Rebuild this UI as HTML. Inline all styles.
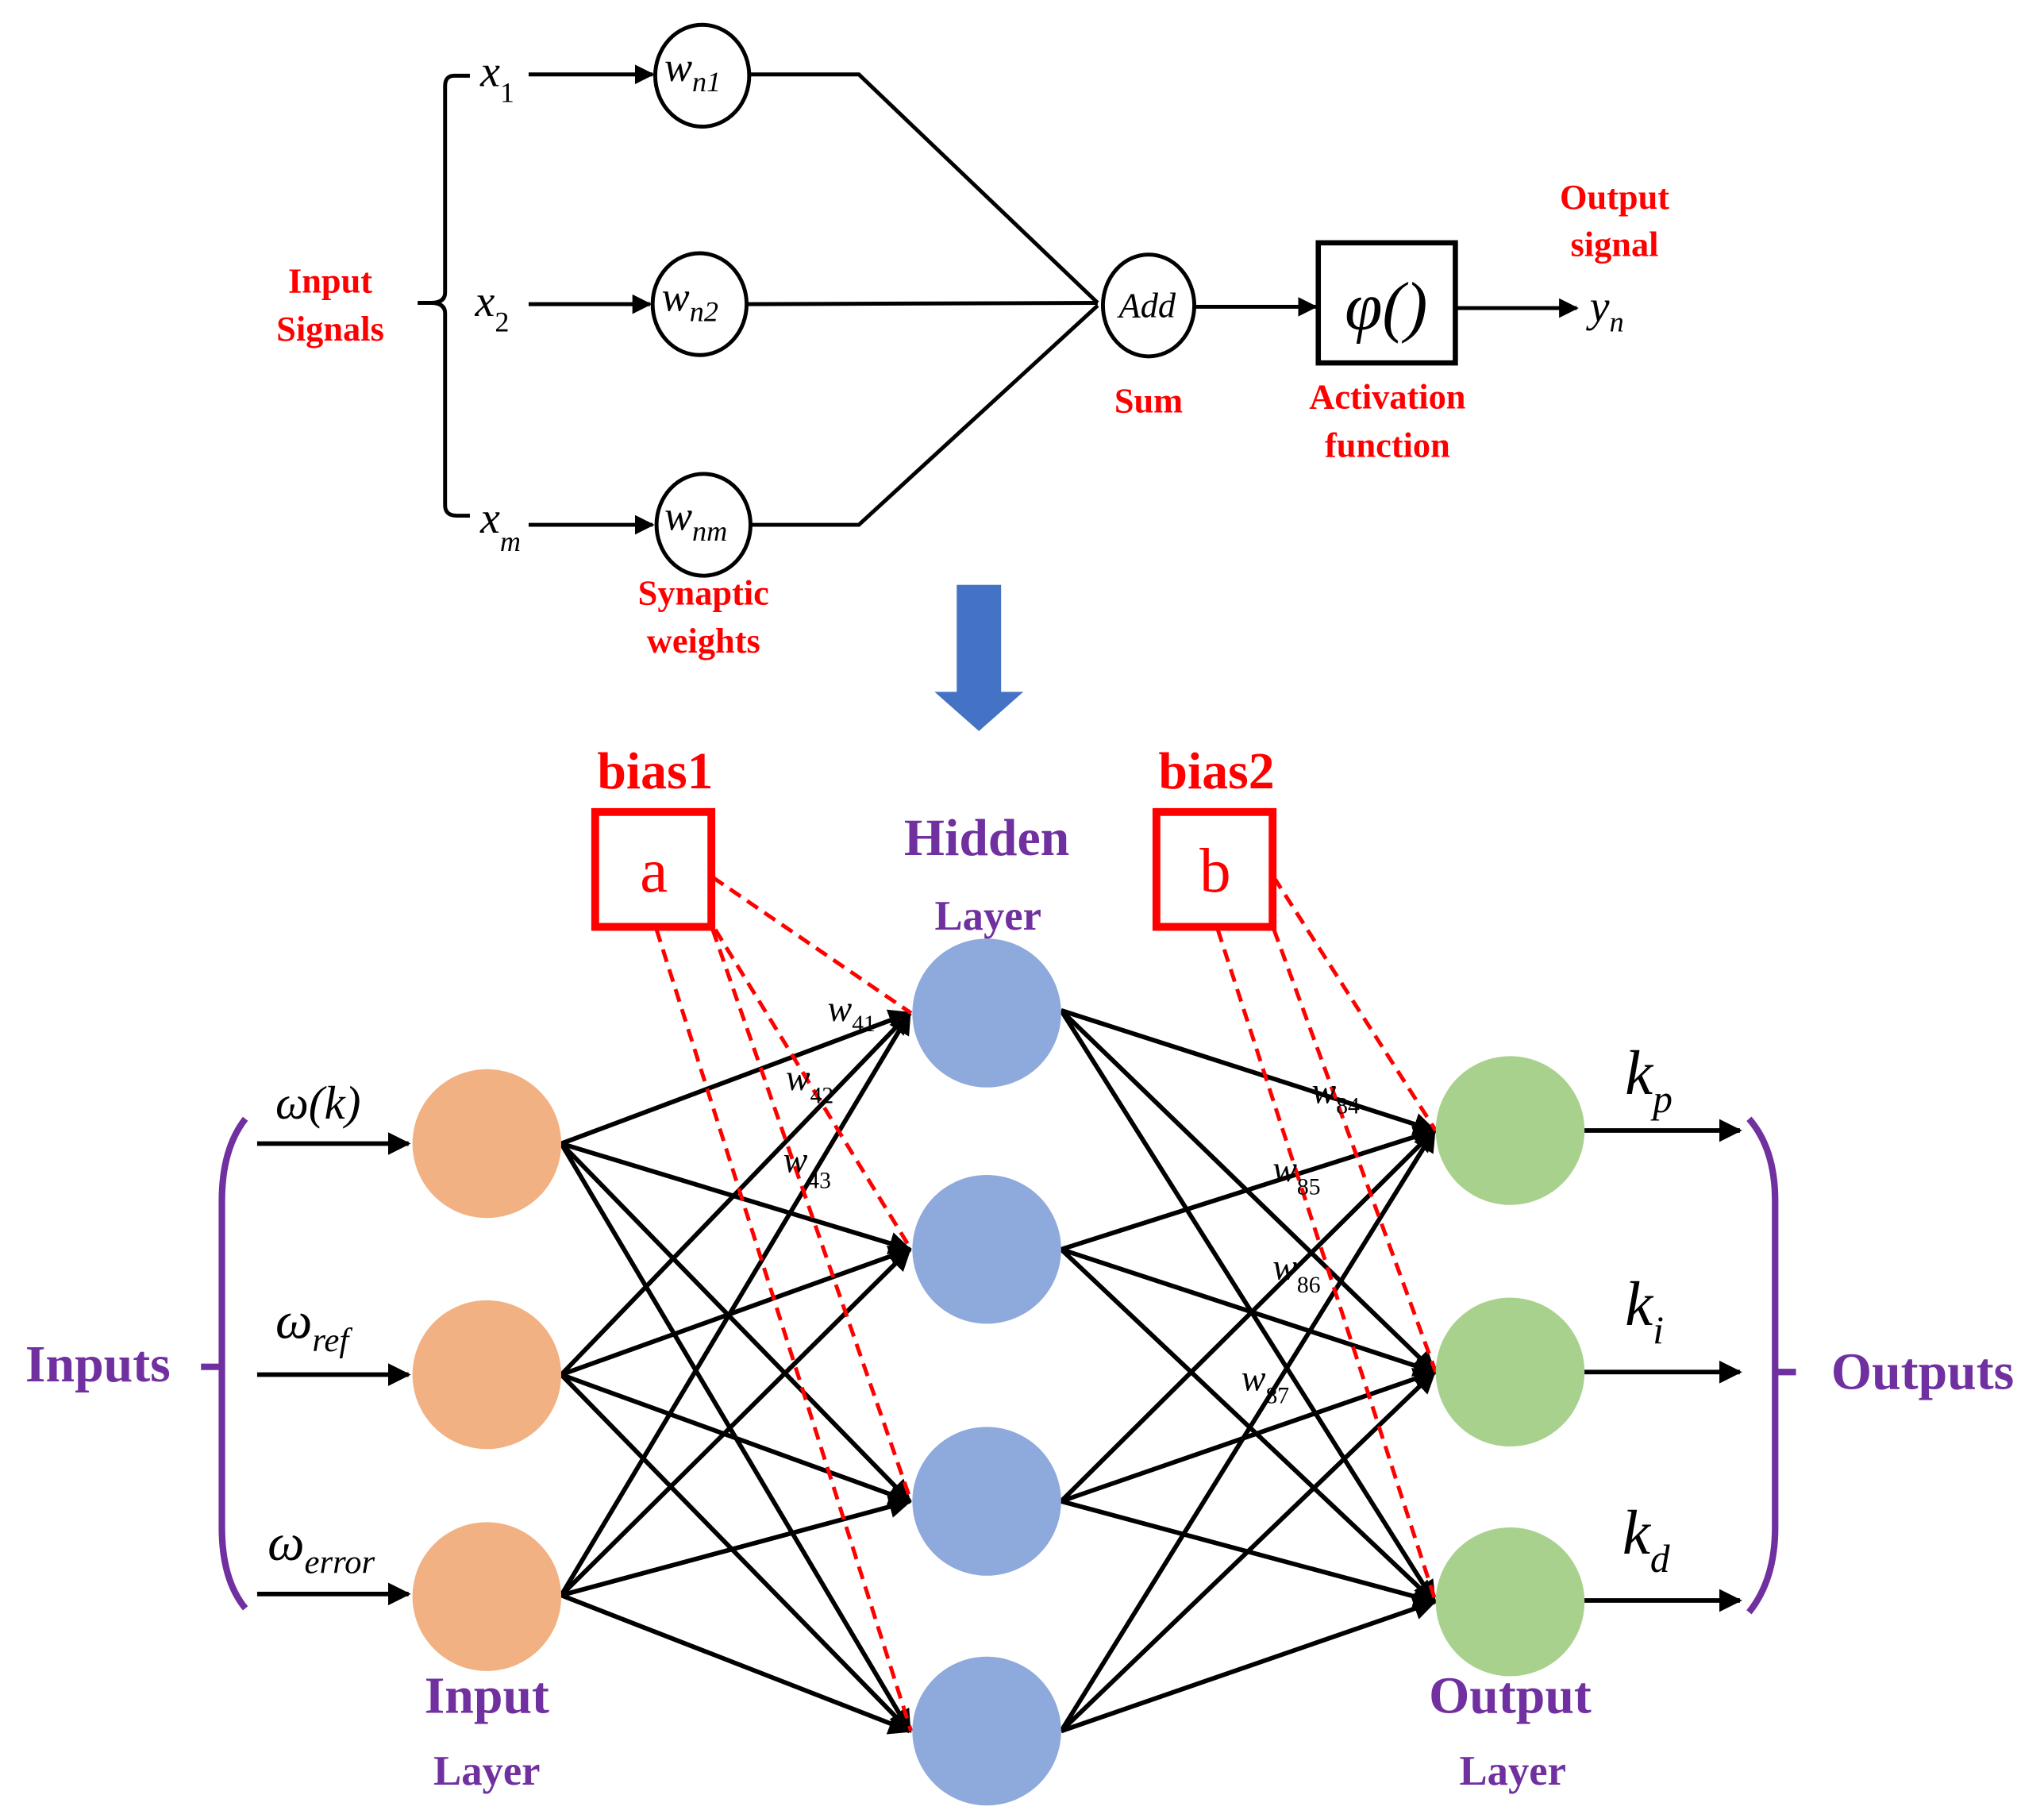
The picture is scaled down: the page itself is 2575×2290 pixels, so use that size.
<!DOCTYPE html>
<html><head><meta charset="utf-8"><style>html,body{margin:0;padding:0;background:#fff}svg{display:block}</style></head>
<body>
<svg width="2575" height="2290" viewBox="0 0 1566 1392.6" preserveAspectRatio="none" xmlns="http://www.w3.org/2000/svg">
<defs>
<marker id="ah" markerWidth="5" markerHeight="5" refX="4.5" refY="2.5" orient="auto" markerUnits="strokeWidth"><path d="M0,0 L5,2.5 L0,5 z" fill="#000"/></marker>
<marker id="ah2" markerWidth="5" markerHeight="5" refX="4.5" refY="2.5" orient="auto" markerUnits="strokeWidth"><path d="M0,0 L5,2.5 L0,5 z" fill="#000"/></marker>
</defs>
<g font-family="Liberation Serif, serif">
<path d="M360,58 L348,58 Q341,58 341,66 L341,224 Q341,232 330,232 L320,232 L330,232 Q341,232 341,240 L341,387 Q341,395 350,395 L360,395" fill="none" stroke="#000" stroke-width="3"/>
<g fill="#f00" font-weight="bold" font-size="27" text-anchor="middle">
<text x="253" y="224">Input</text><text x="253" y="261">Signals</text>
<text x="1237" y="160">Output</text><text x="1237" y="196">signal</text>
<text x="880" y="316">Sum</text>
<text x="1063" y="313">Activation</text><text x="1063" y="350">function</text>
<text x="539" y="463">Synaptic</text><text x="539" y="500">weights</text>
</g>
<g font-style="italic" font-size="34">
<text x="368" y="66">x<tspan font-size="22" dy="12" font-style="normal">1</tspan></text>
<text x="364" y="242">x<tspan font-size="22" dy="12" font-style="normal">2</tspan></text>
<text x="368" y="408">x<tspan font-size="22" dy="14">m</tspan></text>
<text x="1218" y="246">y<tspan font-size="22" dy="8">n</tspan></text>
</g>
<g stroke="#000" stroke-width="3" fill="none">
<line x1="405" y1="57" x2="500" y2="57" marker-end="url(#ah2)"/>
<line x1="405" y1="233" x2="498" y2="233" marker-end="url(#ah2)"/>
<line x1="405" y1="402" x2="500" y2="402" marker-end="url(#ah2)"/>
<ellipse cx="538" cy="58" rx="36" ry="39"/>
<ellipse cx="536" cy="233" rx="36" ry="39"/>
<ellipse cx="539" cy="402" rx="36" ry="39"/>
<polyline points="575,57 658,57 841,232"/>
<line x1="572" y1="233" x2="841" y2="232"/>
<polyline points="575,402 658,402 841,234"/>
<ellipse cx="880" cy="234" rx="35" ry="39"/>
<line x1="916" y1="235" x2="1008" y2="235" marker-end="url(#ah2)"/>
<rect x="1010" y="186" width="105" height="92" stroke-width="4"/>
<line x1="1116" y1="236" x2="1208" y2="236" marker-end="url(#ah2)"/>
</g>
<g font-style="italic" font-size="32">
<text x="509" y="62">w<tspan font-size="22" dy="8">n1</tspan></text>
<text x="507" y="238">w<tspan font-size="22" dy="8">n2</tspan></text>
<text x="509" y="406">w<tspan font-size="22" dy="8">nm</tspan></text>
</g>
<text x="879" y="243" font-style="italic" font-size="27" text-anchor="middle">Add</text>
<text x="1062" y="252" font-style="italic" font-size="52" text-anchor="middle">φ()</text>
<rect x="733" y="448" width="34" height="84" fill="#4472C4"/>
<polygon points="716,530 784,530 750,560" fill="#4472C4"/>

<g fill="#f00" font-weight="bold" font-size="40" text-anchor="middle">
<text x="502" y="604">bias1</text><text x="932" y="604">bias2</text>
</g>
<rect x="456" y="622" width="89" height="88" fill="none" stroke="#f00" stroke-width="6"/>
<rect x="886" y="622" width="89" height="88" fill="none" stroke="#f00" stroke-width="6"/>
<text x="501" y="683" fill="#f00" font-size="48" text-anchor="middle">a</text>
<text x="931" y="683" fill="#f00" font-size="48" text-anchor="middle">b</text>
<g fill="#7030A0" font-weight="bold" text-anchor="middle">
<text x="756" y="655" font-size="40">Hidden</text>
<text x="757" y="712" font-size="32">Layer</text>
<text x="373" y="1312" font-size="40">Input</text>
<text x="373" y="1367" font-size="32">Layer</text>
<text x="1157" y="1312" font-size="40">Output</text>
<text x="1159" y="1367" font-size="32">Layer</text>
<text x="75" y="1058" font-size="40">Inputs</text>
<text x="1473" y="1064" font-size="40">Outputs</text>
</g>

<g stroke="#000" stroke-width="3.5" fill="none" marker-end="url(#ah)">
<line x1="430" y1="876" x2="697" y2="776"/><line x1="430" y1="876" x2="697" y2="957"/><line x1="430" y1="876" x2="697" y2="1150"/><line x1="430" y1="876" x2="697" y2="1326"/>
<line x1="430" y1="1053" x2="697" y2="776"/><line x1="430" y1="1053" x2="697" y2="957"/><line x1="430" y1="1053" x2="697" y2="1150"/><line x1="430" y1="1053" x2="697" y2="1326"/>
<line x1="430" y1="1222" x2="697" y2="776"/><line x1="430" y1="1222" x2="697" y2="957"/><line x1="430" y1="1222" x2="697" y2="1150"/><line x1="430" y1="1222" x2="697" y2="1326"/>
<line x1="813" y1="774" x2="1099" y2="866"/><line x1="813" y1="774" x2="1099" y2="1051"/><line x1="813" y1="774" x2="1099" y2="1227"/>
<line x1="813" y1="957" x2="1099" y2="866"/><line x1="813" y1="957" x2="1099" y2="1051"/><line x1="813" y1="957" x2="1099" y2="1227"/>
<line x1="813" y1="1150" x2="1099" y2="866"/><line x1="813" y1="1150" x2="1099" y2="1051"/><line x1="813" y1="1150" x2="1099" y2="1227"/>
<line x1="813" y1="1326" x2="1099" y2="866"/><line x1="813" y1="1326" x2="1099" y2="1051"/><line x1="813" y1="1326" x2="1099" y2="1227"/>
<line x1="197" y1="876" x2="313" y2="876"/><line x1="197" y1="1053" x2="313" y2="1053"/><line x1="197" y1="1221" x2="313" y2="1221"/>
<line x1="1213" y1="866" x2="1333" y2="866"/><line x1="1213" y1="1051" x2="1333" y2="1051"/><line x1="1213" y1="1226" x2="1333" y2="1226"/>
</g>
<g stroke="#f00" stroke-width="3" stroke-dasharray="10,6" fill="none">
<path d="M546,672L698,776M548,712L698,957M546,712L698,1150M503,712L698,1326"/>
<path d="M976,672L1100,866M976,712L1100,1051M933,712L1100,1227"/>
</g>
<g fill="#F2B183"><circle cx="373" cy="876" r="57"/><circle cx="373" cy="1053" r="57"/><circle cx="373" cy="1223" r="57"/></g>
<g fill="#8EA9DB"><circle cx="756" cy="776" r="57"/><circle cx="756" cy="957" r="57"/><circle cx="756" cy="1150" r="57"/><circle cx="756" cy="1326" r="57"/></g>
<g fill="#A9D18E"><circle cx="1157" cy="866" r="57"/><circle cx="1157" cy="1051" r="57"/><circle cx="1157" cy="1227" r="57"/></g>
<g font-style="italic" font-size="28">
<text x="634" y="782">w<tspan font-size="18" dy="8" font-style="normal">41</tspan></text>
<text x="602" y="835">w<tspan font-size="18" dy="10" font-style="normal">42</tspan></text>
<text x="600" y="898">w<tspan font-size="18" dy="12" font-style="normal">43</tspan></text>
<text x="1005" y="845">w<tspan font-size="18" dy="8" font-style="normal">84</tspan></text>
<text x="975" y="905">w<tspan font-size="18" dy="10" font-style="normal">85</tspan></text>
<text x="975" y="980">w<tspan font-size="18" dy="10" font-style="normal">86</tspan></text>
<text x="951" y="1065">w<tspan font-size="18" dy="10" font-style="normal">87</tspan></text>
</g>
<g font-style="italic" font-size="36">
<text x="211" y="857">ω(k)</text>
<text x="211" y="1025" font-size="40">ω<tspan font-size="26" dy="10">ref</tspan></text>
<text x="205" y="1195" font-size="40">ω<tspan font-size="26" dy="10">error</tspan></text>
<text x="1245" y="838" font-size="48">k<tspan font-size="30" dy="14">p</tspan></text>
<text x="1245" y="1015" font-size="48">k<tspan font-size="30" dy="14">i</tspan></text>
<text x="1243" y="1190" font-size="48">k<tspan font-size="30" dy="14">d</tspan></text>
</g>
<g stroke="#7030A0" stroke-width="5" fill="none">
<path d="M188,857 Q170,880 170,920 L170,1170 Q170,1210 188,1232"/>
<path d="M1340,857 Q1360,880 1360,920 L1360,1170 Q1360,1210 1340,1235"/>
<line x1="154" y1="1047" x2="168" y2="1047"/>
<line x1="1362" y1="1051" x2="1376" y2="1051"/>
</g>
</g>
</svg>
</body></html>
